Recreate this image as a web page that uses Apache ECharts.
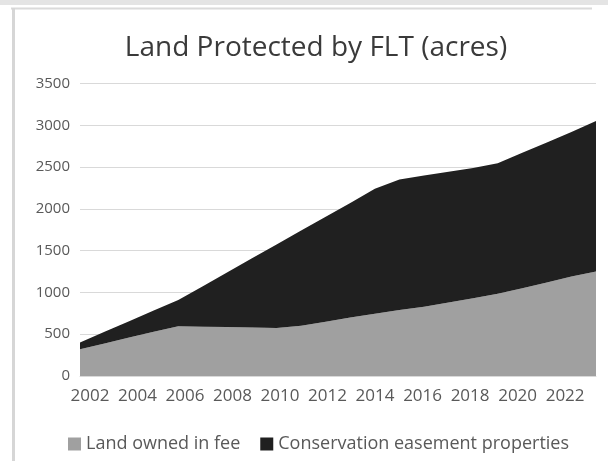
<!DOCTYPE html>
<html>
<head>
<meta charset="utf-8">
<script src="https://cdn.jsdelivr.net/npm/echarts@6/dist/echarts.min.js"></script>
<style>
html,body{margin:0;padding:0;background:#fff;}
#chart{width:608px;height:461px;}
</style>
</head>
<body>
<div id="chart"></div>
<script>
const years = ['2002','2003','2004','2005','2006','2007','2008','2009','2010','2011','2012','2013','2014','2015','2016','2017','2018','2019','2020','2021','2022','2023'];
const landOwnedInFee = [320,390,460,530,595,590,585,580,575,600,650,700,745,790,830,880,930,985,1050,1120,1190,1250];
const conservationEasement = [80,140,195,255,315,485,655,830,1000,1140,1255,1370,1495,1560,1570,1565,1560,1560,1620,1675,1730,1800];
const xTickLabels = [2002,2004,2006,2008,2010,2012,2014,2016,2018,2020,2022];
const yTicks = [0,500,1000,1500,2000,2500,3000,3500];
const seriesNames = ['Land owned in fee','Conservation easement properties'];
const titleText = 'Land Protected by FLT (acres)';

const font = '"Open Sans", "DejaVu Sans", sans-serif';
const chart = echarts.init(document.getElementById('chart'), null, {renderer:'canvas'});
chart.setOption({
  animation:false,
  backgroundColor:'#ffffff',
  title:{
    text:titleText, left:311, top:29, textAlign:'center',
    textStyle:{fontFamily:font, fontSize:28, fontWeight:'normal', color:'#3a3a3a'}
  },
  legend:{
    left:63, top:430, itemWidth:13, itemHeight:13, itemGap:20, icon:'rect',
    textStyle:{fontFamily:font, fontSize:18, color:'#595959'},
    data:seriesNames
  },
  grid:{left:80, right:12, top:83.5, bottom:85, containLabel:false},
  xAxis:[{
    type:'category', data:years, boundaryGap:false,
    axisLine:{show:true, lineStyle:{color:'#d9d9d9'}},
    axisTick:{show:false}, axisLabel:{show:false}, splitLine:{show:false}
  },{
    type:'value', min:2001.58, max:2023.3, position:'bottom',
    axisLine:{show:false}, axisTick:{show:false}, splitLine:{show:false},
    axisLabel:{customValues:xTickLabels, margin:12, fontFamily:font, fontSize:17, color:'#595959',
      formatter:v=>String(v)}
  }],
  yAxis:{
    type:'value', min:yTicks[0], max:yTicks[yTicks.length-1], interval:500,
    axisLine:{show:false}, axisTick:{show:false},
    splitLine:{lineStyle:{color:'#d9d9d9', width:1}},
    axisLabel:{margin:10, fontFamily:font, fontSize:15, color:'#595959', formatter:v=>String(v)}
  },
  graphic:[
    {type:'rect', shape:{x:0,y:0,width:608,height:5}, style:{fill:'#e4e4e4'}, silent:true},
    {type:'line', shape:{x1:11,y1:8.5,x2:592,y2:8.5}, style:{stroke:'#dadada', lineWidth:2}, silent:true},
    {type:'line', shape:{x1:13.5,y1:8,x2:13.5,y2:461}, style:{stroke:'#d6d6d6', lineWidth:3}, silent:true}
  ],
  series:[{
    name:seriesNames[0], type:'line', stack:'total', data:landOwnedInFee,
    xAxisIndex:0, symbol:'none', lineStyle:{width:0},
    itemStyle:{color:'#a0a0a0'}, areaStyle:{color:'#a0a0a0', opacity:1}
  },{
    name:seriesNames[1], type:'line', stack:'total', data:conservationEasement,
    xAxisIndex:0, symbol:'none', lineStyle:{width:0},
    itemStyle:{color:'#202020'}, areaStyle:{color:'#202020', opacity:1}
  }]
});
</script>
</body>
</html>
